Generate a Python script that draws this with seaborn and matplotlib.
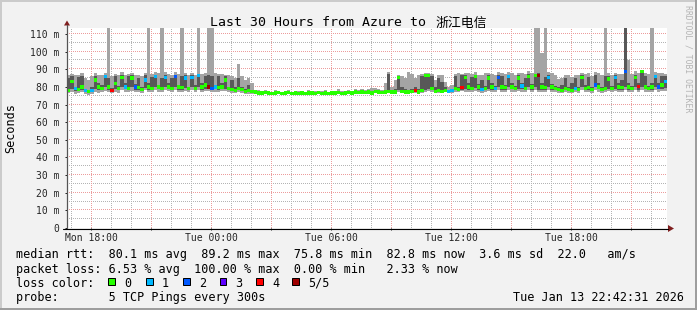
import numpy as np
import pandas as pd
import matplotlib
matplotlib.use("Agg")
import matplotlib.pyplot as plt
import seaborn as sns
from matplotlib.patches import Rectangle, Polygon
from matplotlib.lines import Line2D

# ---------------- data ----------------
hour_ticks = [18, 24, 30, 36, 42]
hour_labels = ["Mon 18:00", "Tue 00:00", "Tue 06:00", "Tue 12:00", "Tue 18:00"]
y_ticks = [0, 10, 20, 30, 40, 50, 60, 70, 80, 90, 100, 110]
y_labels = ["0", "10 m", "20 m", "30 m", "40 m", "50 m", "60 m", "70 m",
            "80 m", "90 m", "100 m", "110 m"]
t_start = 16.8          # hours since Mon 00:00
t_end = 46.8
step_h = 1 / 6          # 10-minute steps

med = [
    78, 83, 79, 78.5, 80, 78, 77.5, 78, 84, 80,
    79, 86, 80, 78, 82, 79, 85.5, 80, 79, 85,
    80, 79.5, 78.5, 84, 80, 79, 86, 80, 79, 85.5,
    80, 79, 86, 80, 79.5, 85, 79, 85.5, 79, 86.5,
    80, 81, 80, 79, 80, 79.5, 80, 84, 79, 78.5,
    78, 79, 78.5, 77.5, 78, 77.5, 77, 76.5, 76.5, 76.8,
    76.5, 76.2, 76.5, 76.8, 76.3, 76.5, 76.7, 76.3, 76.5, 76.4,
    76.6, 76.3, 76.5, 76.6, 76.4, 76.7, 76.4, 76.5, 76.3, 76.6,
    76.5, 76.7, 76.4, 76.6, 76.8, 76.5, 77, 76.7, 77.2, 76.8,
    77, 76.6, 77.5, 77.2, 76.8, 77, 77.5, 77, 77.2, 85.5,
    77.5, 77.2, 77, 77.5, 78, 77, 78, 86.5, 86.5, 79,
    77.5, 78, 77.5, 78, 77.5, 78, 79, 78.5, 79.5, 85.5,
    80, 79, 86, 80, 78.5, 79, 85, 80, 79, 85.5,
    80, 79.5, 86, 80, 79, 85, 80.5, 79, 86, 80,
    86.5, 86.5, 80, 79.5, 85.5, 80, 79, 78.5, 78, 79,
    78.5, 78, 79, 78.5, 85.5, 79, 79.5, 78.5, 81, 80,
    78.5, 79, 84.5, 79, 85.4, 80, 79.5, 88.8, 80, 79,
    85.5, 80.3, 88.8, 80, 79, 80, 86, 80, 81, 83,
]
lo = [
    76.5, 77, 76, 76.5, 77, 76, 75.5, 76, 77, 76.5,
    77, 77.5, 77, 76.5, 77, 76.5, 78, 77, 77, 77.5,
    77, 77, 76.5, 78, 77, 77, 78, 77, 77, 78,
    77.5, 77, 78, 77, 77, 77.5, 77, 78, 77, 78,
    77, 77.5, 77.5, 77, 77, 77, 77.5, 77.5, 77, 76.5,
    76.5, 77, 76.5, 76, 76, 76, 76, 75.5, 76, 76,
    76, 75.8, 76, 76.2, 75.8, 76, 76.2, 75.8, 76, 76,
    76.1, 75.8, 76, 76.2, 76, 76.2, 75.9, 76, 75.8, 76.1,
    76, 76.2, 76, 76.1, 76.3, 76, 76.3, 76.2, 76.5, 76.2,
    76.3, 76.1, 76.5, 76.5, 76.2, 76.3, 76.5, 76.3, 76.5, 77,
    76.5, 76.5, 76.3, 76.5, 76.5, 76.3, 76.5, 77, 77.5, 77,
    76.5, 76.5, 76.5, 77, 76.5, 76.5, 77, 77, 77.5, 77,
    77, 77, 77.5, 77, 76.5, 77, 77.5, 77, 77, 78,
    77, 77, 78, 77, 77, 77.5, 77, 77, 78, 77,
    78, 77, 77, 77, 78, 77, 77, 76.5, 76.5, 77,
    76.5, 76.5, 77, 76.5, 78, 77, 77, 76.5, 78, 77,
    76.5, 77, 77.5, 77, 77.5, 77, 77, 78, 77, 77,
    78, 77, 78, 77, 77, 77, 78, 77, 77.5, 77.5,
]
q1 = [
    77.5, 79, 77.5, 77.5, 78, 77, 76.5, 77, 79, 78,
    78, 80, 78.5, 77.5, 79, 78, 80, 79, 78, 80,
    78, 78.5, 77.5, 79.5, 78.5, 78, 80, 79, 78, 80,
    79, 78, 80, 78.5, 78.5, 79.5, 78, 80, 78, 80,
    78.5, 79, 79, 78, 79, 78.5, 79, 79, 78, 77.5,
    77.5, 78, 77.5, 77, 77, 77, 76.5, 76, 76.3, 76.5,
    76.3, 76, 76.3, 76.5, 76, 76.3, 76.5, 76, 76.3, 76.2,
    76.4, 76.1, 76.3, 76.4, 76.2, 76.5, 76.2, 76.3, 76.1, 76.4,
    76.3, 76.5, 76.2, 76.4, 76.6, 76.3, 76.7, 76.5, 76.9, 76.5,
    76.7, 76.4, 77, 76.8, 76.5, 76.7, 77, 76.7, 76.8, 78,
    77, 77, 76.8, 77, 77.3, 76.8, 77.3, 78, 79, 78,
    77, 77.5, 77, 77.5, 77, 77.5, 78, 78, 78.5, 79,
    78.5, 78, 79.5, 78.5, 77.5, 78, 79, 78.5, 78, 80,
    78.5, 78.5, 80, 79, 78, 79, 79, 78, 80, 78.5,
    80, 78, 78.5, 78.5, 80, 78.5, 78, 77.5, 77.5, 78,
    77.5, 77.5, 78, 77.5, 80, 78, 78.5, 77.5, 80, 79,
    77.5, 78, 79, 78, 79, 78.5, 78.5, 80, 78.5, 78,
    80, 78.5, 80, 79, 78, 78.5, 80, 79, 79, 79.5,
]
q3 = [
    85, 86, 80, 85.5, 86, 79, 78.5, 80, 86, 82,
    81, 86.5, 85, 79.5, 86, 80.5, 87, 82, 86, 86.5,
    81.5, 85, 80, 86.5, 82, 85.5, 87, 81, 85, 87,
    82, 85, 87, 81, 86, 86.5, 80, 86.5, 81, 87,
    82, 86, 87, 86, 81, 86, 82, 86, 80, 84,
    80, 85, 80, 79, 81, 78.5, 77.5, 77, 77, 77.2,
    77, 76.7, 77, 77.2, 76.8, 77, 77.3, 76.8, 77, 76.9,
    77.1, 76.8, 77, 77.1, 76.9, 77.2, 76.9, 77, 76.8, 77.2,
    77, 77.2, 76.9, 77.1, 77.4, 77, 77.8, 77.3, 78, 77.4,
    77.8, 77.2, 78.3, 78, 77.5, 78, 87.5, 78, 79, 86,
    80, 79, 78, 79, 80, 79, 86, 87, 87, 86,
    80, 85, 83, 80, 78.5, 79, 86, 80, 86.5, 86.5,
    82, 85.5, 87, 81.5, 84, 80.5, 86.5, 82, 80.5, 87,
    86, 81, 87, 82, 80.5, 86.5, 82, 85, 87.5, 81.5,
    87.5, 88, 82, 85.5, 87, 81.5, 80.5, 80, 81, 85,
    80, 82, 85, 80, 86.5, 81, 85.5, 80, 87, 82,
    80, 86, 86, 80.5, 86.5, 82, 84, 125, 82, 80.5,
    87, 82, 89, 86, 80.5, 82, 87, 82, 86, 86,
]
hi = [
    87, 87.5, 87, 86.5, 88, 85, 84, 86, 88, 87,
    86.5, 88, 125, 86, 87.5, 87, 88.5, 87, 87.5, 88,
    86.5, 87, 86, 88, 125, 87.5, 88.5, 88, 125, 88.5,
    87.5, 87, 88.5, 87.5, 125, 88, 86.5, 88, 87, 125,
    87.5, 88, 125, 125, 88, 87.5, 87.5, 87, 86.5, 86,
    85, 93, 86, 84, 85, 82, 78.5, 78, 77.5, 78,
    77.5, 77.2, 78.5, 77.8, 77.3, 77.6, 78.2, 77.3, 77.6, 77.4,
    77.8, 77.3, 78.3, 77.6, 77.4, 77.8, 77.5, 78, 77.3, 77.7,
    77.6, 78.6, 77.5, 77.7, 78.5, 77.7, 78.8, 78, 79, 78.2,
    78.6, 79.5, 79.2, 79, 78.5, 82, 88.5, 80, 84, 87,
    86, 85, 88.5, 87.5, 85, 87, 87.5, 88, 88, 87.5,
    84, 87, 86.5, 83, 80, 81, 87.5, 88, 87.5, 88,
    88, 87.5, 88.5, 87, 86.5, 88, 88, 87.5, 87, 88.5,
    88, 87.5, 88.5, 88, 87, 88, 88, 87.5, 89, 88,
    125, 125, 99, 125, 88.5, 88, 87, 84.5, 85, 87,
    86.5, 85.5, 87, 87, 88, 87.5, 88, 86, 88.5, 88,
    87, 125, 88, 87, 88, 87.5, 87.5, 125, 95, 87.5,
    89, 88, 89.5, 88, 87.5, 125, 88.5, 88, 88, 87.5,
]
loss = [
    0, 0, 1, 0, 0, 1, 0, 1, 0, 0,
    0, 1, 0, 4, 0, 0, 0, 1, 0, 0,
    2, 0, 0, 1, 0, 0, 1, 0, 0, 1,
    0, 0, 2, 0, 0, 1, 0, 1, 0, 1,
    0, 0, 5, 2, 1, 0, 0, 0, 0, 0,
    0, 0, 0, 0, 0, 0, 0, 0, 0, 0,
    0, 0, 0, 0, 0, 0, 0, 0, 0, 0,
    0, 0, 0, 0, 0, 0, 0, 0, 0, 0,
    0, 0, 0, 0, 0, 0, 0, 0, 0, 0,
    0, 0, 0, 0, 0, 0, 0, 0, 0, 0,
    0, 0, 0, 0, 4, 0, 0, 0, 0, 0,
    0, 0, 0, 0, 1, 1, 0, 0, 4, 0,
    0, 0, 0, 0, 1, 0, 0, 0, 1, 2,
    0, 0, 1, 0, 0, 0, 1, 0, 0, 0,
    0, 5, 0, 0, 1, 0, 0, 0, 0, 0,
    0, 0, 1, 0, 0, 0, 0, 0, 2, 0,
    0, 0, 0, 0, 1, 0, 0, 2, 0, 0,
    0, 4, 0, 0, 0, 0, 1, 2, 0, 1,
]
loss_names = ["0", "1", "2", "3", "4", "5/5"]
loss_colors = ["#26ff00", "#00b8ff", "#0059ff", "#5e00ff", "#ff0000", "#a00000"]

title_ascii = "Last 30 Hours from Azure to "
title_cjk = "浙江电信"
stats_line1 = "median rtt:  80.1 ms avg  89.2 ms max  75.8 ms min  82.8 ms now  3.6 ms sd  22.0   am/s"
stats_line2 = "packet loss: 6.53 % avg  100.00 % max  0.00 % min   2.33 % now"
loss_line = "loss color:"
probe_line = "probe:       5 TCP Pings every 300s"
stamp = "Tue Jan 13 22:42:31 2026"

n = len(med)
assert all(len(a) == n for a in (lo, q1, q3, hi, loss))

# ---------------- figure ----------------
W, H = 697, 310
def X(px): return px / W
def Y(py): return 1 - py / H

sns.set_theme(style="white")
plt.rcParams["font.family"] = ["DejaVu Sans Mono", "Noto Sans CJK SC"]
plt.rcParams["text.color"] = "black"

fig = plt.figure(figsize=(W / 100, H / 100), dpi=100)
fig.patch.set_facecolor("#f2f2f2")
ax = fig.add_axes([X(67), Y(228), 600 / W, 200 / H])
ax.set_facecolor("white")
for s in ax.spines.values():
    s.set_visible(False)
y_top = 113.4
ax.set_xlim(t_start, t_end)
ax.set_ylim(0, y_top)

t = t_start + np.arange(n) * step_h
df = pd.DataFrame(dict(t=t, tc=t + step_h / 2, med=med, lo=lo, q1=q1, q3=q3,
                       hi=hi, loss=[loss_names[k] for k in loss]))

# dotted grid drawn as single pixels every other pixel
ppx = 600 / (t_end - t_start)
ppy = 200 / y_top
ydots = np.arange(0.25 / ppy, y_top, 2 / ppy)
xdots = np.arange(t_start + 0.25 / ppx, t_end, 2 / ppx)
minor_col = "#b4b4b4"
major_col = "#ec9c9c"
def vgrid(h, c):
    ax.plot(np.full(len(ydots), h), ydots, ls="none", marker=",", color=c,
            zorder=1)
def hgrid(v, c):
    ax.plot(xdots, np.full(len(xdots), v), ls="none", marker=",", color=c,
            zorder=1)
for h in range(17, 47):
    if h % 3:
        vgrid(h, minor_col)
for v in range(5, 113, 10):
    hgrid(v, minor_col)
for h in range(18, 47, 3):
    vgrid(h, major_col)
for v in range(10, 113, 10):
    hgrid(v, major_col)

# smoke
te = np.append(df.t.values, df.t.values[-1] + step_h)
def ext(a):
    a = np.asarray(a, float)
    return np.append(a, a[-1])
ax.fill_between(te, ext(df.lo), ext(df.hi), step="post", color="#a4a4a4",
                lw=0, zorder=2)
ax.fill_between(te, ext(df.q1), ext(df.q3), step="post", color="#585858",
                lw=0, zorder=3)

# median coloured by loss
pal = dict(zip(loss_names, loss_colors))
sns.scatterplot(data=df, x="tc", y="med", hue="loss", palette=pal, marker="s",
                s=6, linewidth=0, legend=False, ax=ax, zorder=4)
ax.set_xlabel("")
ax.set_ylabel("")

# ticks
ax.set_xticks(hour_ticks, hour_labels)
ax.set_xticks(list(range(18, 47, 3)), minor=True)
ax.set_yticks(y_ticks, y_labels)
ax.tick_params(axis="x", which="both", bottom=True, length=1.5, width=0.7,
               color="#1f1f1f", pad=2.0, labelsize=7, direction="out")
ax.tick_params(axis="y", which="both", left=True, length=1.5, width=0.7,
               color="#1f1f1f", pad=4.0, labelsize=7, direction="out")

# axis lines and arrows
fig.add_artist(Line2D([X(67), X(67)], [Y(228), Y(25)], color="#555555", lw=0.9))
fig.add_artist(Line2D([X(63), X(668)], [Y(228.5), Y(228.5)], color="black", lw=0.8))
fig.add_artist(Polygon([(X(668), Y(225)), (X(674), Y(228.5)), (X(668), Y(232))],
                       closed=True, color="#801f1f", lw=0))
fig.add_artist(Polygon([(X(64), Y(25.5)), (X(67), Y(20.5)), (X(70), Y(25.5))],
                       closed=True, color="#801f1f", lw=0))

# texts
fig.text(X(210.5), Y(26.5), title_ascii, fontsize=9.55, ha="left", va="baseline",
         family="DejaVu Sans Mono")
fig.text(X(436), Y(27), title_cjk, fontsize=9.3, ha="left", va="baseline",
         family=["Noto Sans CJK SC", "DejaVu Sans"])
fig.text(X(11), Y(128), "Seconds", rotation=90, ha="center", va="center",
         fontsize=8.5)
fig.text(X(688), Y(59), "RRDTOOL / TOBI OETIKER", rotation=-90, ha="center",
         va="center", fontsize=5.9, color="#b4b4b4")

fig.text(X(16), Y(258.3), stats_line1, fontsize=8.5, ha="left", va="baseline")
fig.text(X(16), Y(272.5), stats_line2, fontsize=8.5, ha="left", va="baseline")
fig.text(X(16), Y(286.8), loss_line, fontsize=8.5, ha="left", va="baseline")
fig.text(X(16), Y(301), probe_line, fontsize=8.5, ha="left", va="baseline")
fig.text(X(513.3), Y(301), stamp, fontsize=8.5, ha="left", va="baseline")

sw_x = [108.3, 146, 183, 219.5, 256, 292]
for xs, name, col in zip(sw_x, loss_names, loss_colors):
    fig.add_artist(Rectangle((X(xs), Y(284.5)), 6.5 / W, 6.5 / H,
                             facecolor=col, edgecolor="black", lw=0.72))
    fig.text(X(xs + 16), Y(286.8), name, fontsize=8.5, ha="left", va="baseline")

# 3d border
fig.add_artist(Rectangle((0, Y(2)), 1, 2 / H, color="#cbcbcb", lw=0))
fig.add_artist(Rectangle((0, 0), 2 / W, 1, color="#cbcbcb", lw=0))
fig.add_artist(Rectangle((0, 0), 1, 2 / H, color="#9e9e9e", lw=0))
fig.add_artist(Rectangle((X(695), 0), 2 / W, 1, color="#9e9e9e", lw=0))

fig.savefig("out.png", dpi=100, facecolor=fig.get_facecolor())
